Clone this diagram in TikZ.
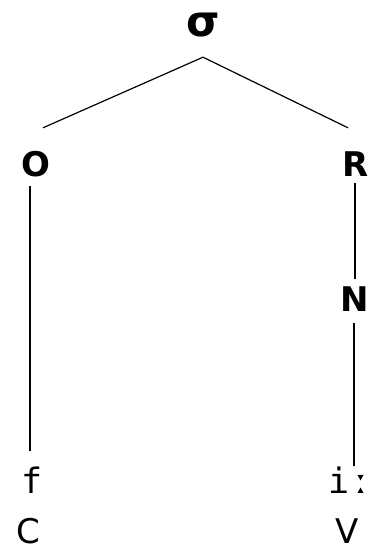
\documentclass[tikz,border=0pt]{standalone}
\usepackage{fontspec}
\setmainfont{DejaVu Sans}
\setmonofont{DejaVu Sans Mono}
\usetikzlibrary{calc}
\tikzset{
  syl/.style={font=\bfseries\fontsize{34}{40}\selectfont, inner sep=0pt,
              anchor=base, text height=25pt, text depth=0pt},
  seg/.style={font=\ttfamily\fontsize{35}{40}\selectfont, inner sep=0pt,
              anchor=base, text height=25pt, text depth=0pt},
  cv/.style={font=\fontsize{34}{40}\selectfont, inner sep=0pt,
              anchor=base, text height=25pt, text depth=0pt},
  branch/.style={line width=1.2pt},
}
\begin{document}
\begin{tikzpicture}[x=1pt, y=-1pt]
\useasboundingbox (0,0) rectangle (377,551);
\node[syl, font=\bfseries\fontsize{43}{48}\selectfont] (sigma) at (203,37) {σ};
\node[syl] (onset) at (36,176) {O};
\node[syl] (rime) at (356,176) {R};
\node[syl] (nuc) at (355,311) {N};
\node[seg] (f) at (32,493) {f};
\node[seg] (ii) at (350,493) {iː};
\node[cv] (cons) at (28,543) {C};
\node[cv] (vow) at (347,543) {V};

\draw[branch] ($(sigma.south)+(0,20)$) -- ($(onset.north)+(7,-23)$);
\draw[branch] ($(sigma.south)+(0,20)$) -- ($(rime.north)+(-8,-23)$);
\draw[branch] ($(onset.south)+(-6,10)$) -- ($(f.north)+(-2,-17)$);
\draw[branch] ($(rime.south)+(-1,7)$) -- ($(nuc.north)+(0,-7)$);
\draw[branch] ($(nuc.south)+(-1,12)$) -- ($(ii.north)+(4,-2)$);
\end{tikzpicture}
\end{document}
